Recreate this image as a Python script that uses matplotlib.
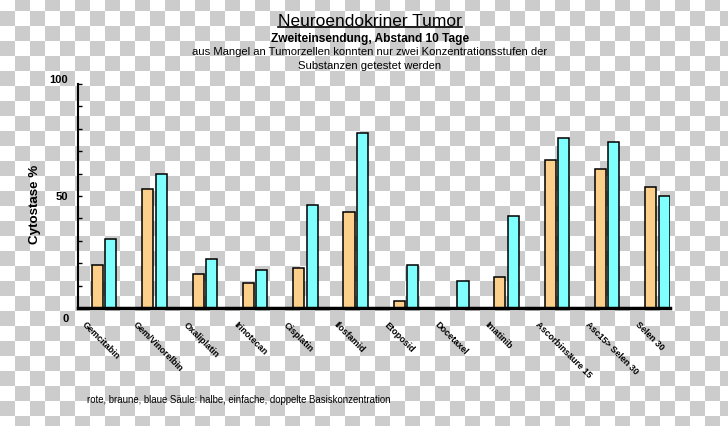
import numpy as np
import matplotlib as mpl
mpl.use('Agg')
import matplotlib.pyplot as plt
from matplotlib.lines import Line2D
from matplotlib.transforms import offset_copy

# data (red series has no bars)
categories = ['Gemcitabin', 'Gem/Vinorelbin', 'Oxaliplatin', 'Irinotecan',
              'Cisplatin', 'Ilosfamid', 'Etoposid', 'Docetaxel', 'Imatinib',
              'Ascorbinsäure 15', 'Asc15> Selen 30', 'Selen 30']
braune = [19, 53, 15, 11, 18, 43, 3, 0, 14, 66, 62, 54]
blaue  = [31, 60, 22, 17, 46, 78, 19, 12, 41, 76, 74, 50]
yticks_major = [0, 50, 100]
ylabel_shift = [-7, 0, 3.5]   # label nudges (points) as in the original

plt.rcParams['font.family'] = ['Liberation Sans', 'DejaVu Sans']

W, H = 728, 427
fig = plt.figure(figsize=(W / 100, H / 100), dpi=100)

# transparent-background checkerboard as in the reference
yy, xx = np.mgrid[0:H, 0:W]
check = ((xx // 15) + ((yy + 3) // 15)) % 2
bg = np.where(check[..., None] == 1, 0.80, 1.0) * np.ones((H, W, 3))
fig.figimage(bg, 0, 0, zorder=-10)

ax = fig.add_axes([78 / W, 1 - 309 / H, (670 - 78) / W, (309 - 85) / H], zorder=1)
ax.patch.set_alpha(0)

x = np.arange(len(categories))
bw = 0.22
ax.bar(x, braune, bw, color='#fcd08a', edgecolor='black', linewidth=1.1, zorder=3)
ax.bar(x + 0.265, blaue, bw, color='#80ffff', edgecolor='black', linewidth=1.1, zorder=3)

ax.set_xlim(-0.387, 11.38)
ax.set_ylim(0, 100)
ax.set_yticks(yticks_major)
ax.set_yticks(np.arange(0, 101, 10), minor=True)
ax.tick_params(axis='y', which='both', direction='in', length=3, width=1,
               labelleft=False)
ax.set_xticks([])
for s in ['top', 'right']:
    ax.spines[s].set_visible(False)
ax.spines['left'].set_linewidth(1.5)
ax.spines['bottom'].set_linewidth(2.5)
ax.spines['bottom'].set_zorder(4)

for v, dy in zip(yticks_major, ylabel_shift):
    tr = offset_copy(ax.get_yaxis_transform(), fig=fig, x=-7, y=dy, units='points')
    ax.text(0, v, str(v), transform=tr, ha='right', va='center',
            fontsize=8, fontweight='bold')

for i, lab in enumerate(categories):
    ax.text(i - 0.21, -0.05, lab, transform=ax.get_xaxis_transform(),
            rotation=-45, rotation_mode='anchor', ha='left', va='top',
            fontsize=6.5, fontweight='bold')

fig.text(35 / W, 1 - 204 / H, 'Cytostase %', rotation=90, ha='center', va='center',
         fontsize=9.6, fontweight='bold')

t = fig.text(370 / W, 1 - 22 / H, 'Neuroendokriner Tumor', ha='center', va='center',
             fontsize=12.5)
fig.text(370 / W, 1 - 39 / H, 'Zweiteinsendung, Abstand 10 Tage', ha='center',
         va='center', fontsize=8.6, fontweight='bold')
fig.text(370 / W, 1 - 52 / H,
         'aus Mangel an Tumorzellen konnten nur zwei Konzentrationsstufen der',
         ha='center', va='center', fontsize=8.1)
fig.text(370 / W, 1 - 66 / H, 'Substanzen getestet werden', ha='center',
         va='center', fontsize=8.1)
fig.text(87 / W, 1 - 400 / H,
         'rote, braune, blaue Säule: halbe, einfache, doppelte Basiskonzentration',
         ha='left', va='center', fontsize=6.9)

# underline the title
fig.canvas.draw()
bb = t.get_window_extent().transformed(fig.transFigure.inverted())
fig.add_artist(Line2D([bb.x0, bb.x1], [bb.y0 + 0.004, bb.y0 + 0.004],
                      transform=fig.transFigure, color='black', linewidth=1.2))

fig.savefig('out.png', dpi=100)
